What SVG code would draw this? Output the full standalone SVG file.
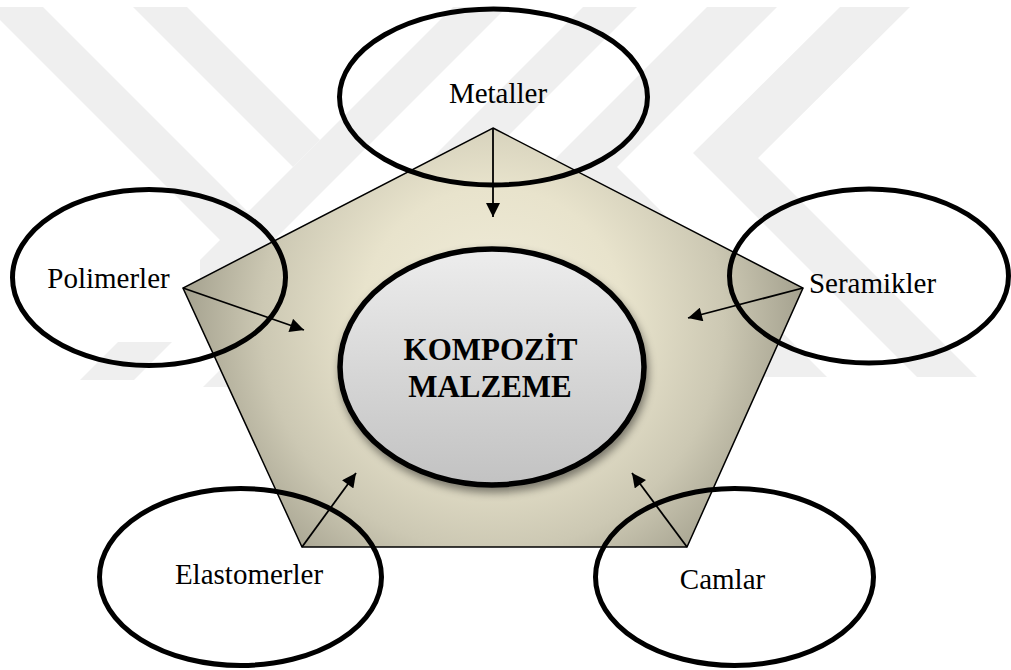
<svg xmlns="http://www.w3.org/2000/svg" width="1011" height="670" viewBox="0 0 1011 670">
<style>
.wm{fill:#efefef}
.node{fill:none;stroke:#000;stroke-width:5}
.lbl{font-family:"Liberation Serif","Times New Roman",serif;font-size:29px;fill:#000;text-anchor:middle}
.big{font-family:"Liberation Serif","Times New Roman",serif;font-size:31px;font-weight:bold;fill:#000;text-anchor:middle}
.conn{stroke:#000;stroke-width:1.8;fill:none;marker-end:url(#ah)}
</style>
<defs>
<radialGradient id="pg" gradientUnits="userSpaceOnUse" cx="493" cy="320" r="330">
<stop offset="0" stop-color="#f1eddb"/>
<stop offset="0.4" stop-color="#e8e3cc"/>
<stop offset="0.7" stop-color="#ccc8b3"/>
<stop offset="1" stop-color="#9b9886"/>
</radialGradient>
<linearGradient id="cg" x1="0" y1="0" x2="0" y2="1">
<stop offset="0" stop-color="#ededed"/>
<stop offset="1" stop-color="#c2c2c2"/>
</linearGradient>
<filter id="sh" x="-20%" y="-20%" width="140%" height="150%">
<feDropShadow dx="2" dy="5" stdDeviation="4" flood-color="#000" flood-opacity="0.45"/>
</filter>
<marker id="ah" viewBox="0 0 10 10" refX="10" refY="5" markerWidth="15" markerHeight="14" markerUnits="userSpaceOnUse" orient="auto">
<path d="M0,0 L10,5 L0,10 z" fill="#000"/>
</marker>
</defs>
<rect width="1011" height="670" fill="#fff"/>
<g id="watermark">
<polygon class="wm" points="-13,7 43,7 313,277 285,305"/>
<polygon class="wm" points="583,7 637,7 257,387 203,387"/>
<polygon class="wm" points="133,7 187,7 320,140 293,167"/>
<polygon class="wm" points="453,7 507,7 134,380 80,380"/>
<polygon class="wm" points="707,7 777,7 617,167 827,377 763,377 550,164"/>
<polygon class="wm" points="840,7 910,7 758,158 977,377 917,377 693,153"/>
<rect x="40" y="250" width="160" height="92" fill="#fff"/>
</g>
<g id="pentagon">
<polygon points="493,128 803,288 687,547 302,547 183,288" fill="url(#pg)" stroke="#000" stroke-width="1.5"/>
</g>
<g id="center">
<ellipse cx="492" cy="367" rx="152" ry="118" fill="url(#cg)" stroke="#000" stroke-width="5.5" filter="url(#sh)"/>
<text class="big" x="490.5" y="360">KOMPOZİT</text>
<text class="big" x="490" y="397">MALZEME</text>
</g>
<g id="connectors">
<path class="conn" d="M493,128 L493,217"/>
<path class="conn" d="M183,288 L304,330"/>
<path class="conn" d="M803,288 L688,318"/>
<path class="conn" d="M302,547 L356,473"/>
<path class="conn" d="M687,547 L632,473"/>
</g>
<g id="metaller">
<ellipse class="node" cx="493.5" cy="97" rx="154" ry="88"/>
<text class="lbl" x="498" y="103">Metaller</text>
</g>
<g id="polimerler">
<ellipse class="node" cx="149" cy="277.5" rx="136.5" ry="88"/>
<text class="lbl" x="108.5" y="288">Polimerler</text>
</g>
<g id="seramikler">
<ellipse class="node" cx="869" cy="276" rx="139.5" ry="87"/>
<text class="lbl" x="872.5" y="293">Seramikler</text>
</g>
<g id="elastomerler">
<ellipse class="node" cx="240.5" cy="577" rx="141" ry="88.5"/>
<text class="lbl" x="249" y="584">Elastomerler</text>
</g>
<g id="camlar">
<ellipse class="node" cx="734.5" cy="577" rx="139" ry="88.5"/>
<text class="lbl" x="722.5" y="589">Camlar</text>
</g>
</svg>
